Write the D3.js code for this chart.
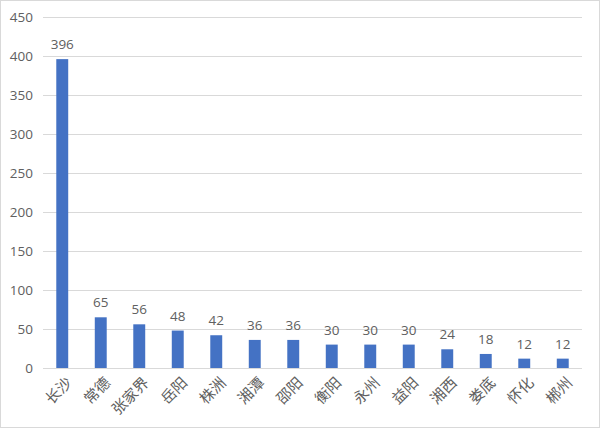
<!DOCTYPE html>
<html>
<head>
<meta charset="utf-8">
<script src="https://cdn.jsdelivr.net/npm/d3@7"></script>
<style>
  body { margin: 0; background: #fff; }
  svg { display: block; font-family: "Noto Sans CJK SC", "Noto Sans", sans-serif; }
</style>
</head>
<body>
<svg id="chart" width="600" height="428"></svg>
<script>
/* ── Data ─────────────────────────────────────────────────────────────────── */

const CITIES = ["长沙", "常德", "张家界", "岳阳", "株洲", "湘潭", "邵阳",
  "衡阳", "永州", "益阳", "湘西", "娄底", "怀化", "郴州"];
const COUNTS = [396, 65, 56, 48, 42, 36, 36, 30, 30, 30, 24, 18, 12, 12];
const Y_TICKS = [0, 50, 100, 150, 200, 250, 300, 350, 400, 450];

/* ── Chart ────────────────────────────────────────────────────────────────── */

const svg = d3.select("#chart");
const TEXT = "#606060";

svg.append("rect")
  .attr("x", 0.5).attr("y", 0.5)
  .attr("width", 599).attr("height", 427)
  .attr("fill", "#fff")
  .attr("stroke", "#d9d9d9");

const x = d3.scaleBand().domain(CITIES).range([43, 582]).paddingInner(0.69).paddingOuter(0.345);
const y = d3.scaleLinear().domain([0, 450]).range([368, 17]);

// Gridlines
svg.append("g")
  .selectAll("line")
  .data(Y_TICKS)
  .join("line")
  .attr("x1", 43).attr("x2", 582)
  .attr("y1", (d) => y(d) + 0.5).attr("y2", (d) => y(d) + 0.5)
  .attr("stroke", "#d9d9d9")
  .attr("stroke-width", 1);

// Y tick labels
svg.append("g")
  .selectAll("text")
  .data(Y_TICKS)
  .join("text")
  .attr("x", 33)
  .attr("y", (d) => y(d))
  .attr("dy", "0.35em")
  .attr("text-anchor", "end")
  .attr("fill", TEXT)
  .attr("font-family", "'Open Sans', sans-serif")
  .attr("font-size", 13.5)
  .text((d) => d);

// Bars
svg.append("g")
  .selectAll("rect")
  .data(COUNTS)
  .join("rect")
  .attr("x", (_, i) => x(CITIES[i]))
  .attr("y", (d) => y(d))
  .attr("width", x.bandwidth())
  .attr("height", (d) => y(0) - y(d))
  .attr("fill", "#4472c4");

// Value labels
svg.append("g")
  .selectAll("text")
  .data(COUNTS)
  .join("text")
  .attr("x", (_, i) => x(CITIES[i]) + x.bandwidth() / 2)
  .attr("y", (d) => y(d) - 10)
  .attr("text-anchor", "middle")
  .attr("fill", TEXT)
  .attr("font-family", "'Open Sans', sans-serif")
  .attr("font-size", 13.5)
  .text((d) => d);

// X labels, rotated
svg.append("g")
  .selectAll("text")
  .data(CITIES)
  .join("text")
  .attr("transform", (d) => `translate(${x(d) + x.bandwidth() / 2 + 7},${y(0) + 12}) rotate(-45)`)
  .attr("text-anchor", "end")
  .attr("dy", "0.35em")
  .attr("fill", TEXT)
  .attr("font-size", 15)
  .text((d) => d);
</script>
</body>
</html>
